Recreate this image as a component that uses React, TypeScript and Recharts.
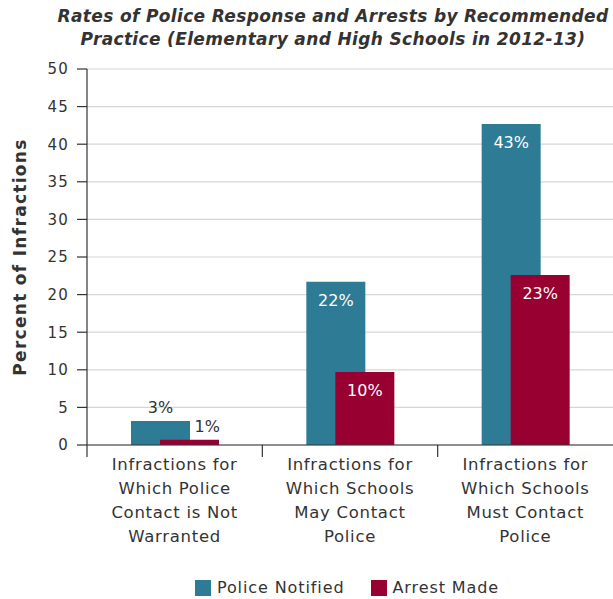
import { BarChart, Bar, XAxis, YAxis, CartesianGrid, LabelList } from "recharts";

const categories = [
  "Infractions for|Which Police|Contact is Not|Warranted",
  "Infractions for|Which Schools|May Contact|Police",
  "Infractions for|Which Schools|Must Contact|Police",
];
const policeNotified = [3.2, 21.7, 42.7];
const arrestMade = [0.7, 9.7, 22.6];
const yTicks = [0, 5, 10, 15, 20, 25, 30, 35, 40, 45, 50];

const TEAL = "#2e7b96";
const CRIMSON = "#990032";
const TEXT = "#333333";
const FONT = "'DejaVu Sans', sans-serif";

const W = 613;
const H = 599;
const X_AXIS_H = 30;
const M = { top: 69, right: 0, bottom: 154 - X_AXIS_H, left: 0 };
const Y_AXIS_W = 87;

const data = categories.map((c, i) => ({
  category: c,
  police: policeNotified[i],
  arrest: arrestMade[i],
}));

const bandWidth = (W - M.left - M.right - Y_AXIS_W) / categories.length;

// category labels wrap on "|"; the tick mark sits on the left edge of each band
function CategoryTick(props: any) {
  const { x, y, payload } = props;
  const lines: string[] = String(payload.value).split("|");
  const left = x - bandWidth / 2;
  return (
    <g>
      <line x1={left} y1={y - 8} x2={left} y2={y + 4} stroke={TEXT} strokeWidth={1.2} />
      <text
        x={x}
        y={y + 17}
        textAnchor="middle"
        fill={TEXT}
        fontSize={16.5}
        letterSpacing={0.7}
        fontFamily={FONT}
      >
        {lines.map((l, i) => (
          <tspan key={i} x={x} dy={i === 0 ? 0 : 24}>
            {l}
          </tspan>
        ))}
      </text>
    </g>
  );
}

function makeValueLabel(shiftAbove: number) {
  return (props: any) => {
    const { x, y, width, height, value } = props;
    const text = `${Math.round(value)}%`;
    if (height < 26) {
      return (
        <text
          x={x + width * shiftAbove}
          y={y - 8}
          textAnchor="middle"
          fill={TEXT}
          fontSize={16}
          fontFamily={FONT}
        >
          {text}
        </text>
      );
    }
    return (
      <text x={x + width / 2} y={y + 24} textAnchor="middle" fill="#ffffff" fontSize={16} fontFamily={FONT}>
        {text}
      </text>
    );
  };
}

function YLabel(props: any) {
  const { viewBox } = props;
  const cy = viewBox.y + viewBox.height / 2;
  return (
    <text
      x={20}
      y={cy}
      transform={`rotate(-90, 20, ${cy})`}
      textAnchor="middle"
      dominantBaseline="central"
      fill={TEXT}
      fontSize={17}
      fontWeight={700}
      letterSpacing={1.3}
      fontFamily={FONT}
    >
      Percent of Infractions
    </text>
  );
}

export default function App() {
  return (
    <div style={{ position: "absolute", left: 0, top: 0, width: W, height: H, background: "#fff", fontFamily: FONT }}>
      <div
        style={{
          position: "absolute",
          left: 40,
          width: 586,
          top: 5,
          textAlign: "center",
          fontSize: 17,
          letterSpacing: 0.35,
          lineHeight: "23px",
          fontWeight: 700,
          fontStyle: "italic",
          color: TEXT,
          whiteSpace: "nowrap",
        }}
      >
        Rates of Police Response and Arrests by Recommended
        <br />
        Practice (Elementary and High Schools in 2012-13)
      </div>
      <BarChart width={W} height={H} data={data} margin={M} barSize={59} barGap={-30}>
        <CartesianGrid vertical={false} stroke="#d6d6d6" strokeWidth={1.2} />
        <XAxis
          dataKey="category"
          height={X_AXIS_H}
          interval={0}
          tick={<CategoryTick />}
          tickLine={false}
          axisLine={{ stroke: TEXT, strokeWidth: 1.2 }}
        />
        <YAxis
          width={Y_AXIS_W}
          domain={[0, 50]}
          ticks={yTicks}
          interval={0}
          tickSize={10}
          tickMargin={8}
          tick={{ fill: TEXT, fontSize: 15, fontFamily: FONT, letterSpacing: 1.2 }}
          tickLine={{ stroke: TEXT, strokeWidth: 1.2 }}
          axisLine={{ stroke: TEXT, strokeWidth: 1.2 }}
          label={<YLabel />}
        />
        <Bar dataKey="police" fill={TEAL} isAnimationActive={false}>
          <LabelList dataKey="police" content={makeValueLabel(0.5)} />
        </Bar>
        <Bar dataKey="arrest" fill={CRIMSON} isAnimationActive={false}>
          <LabelList dataKey="arrest" content={makeValueLabel(0.8)} />
        </Bar>
      </BarChart>
      <div
        style={{
          position: "absolute",
          top: 579,
          left: 0,
          width: W - 81,
          paddingLeft: 81,
          display: "flex",
          justifyContent: "center",
          gap: 26,
          fontSize: 16,
          letterSpacing: 0.9,
          lineHeight: "18px",
          color: TEXT,
        }}
      >
        <div style={{ display: "flex", alignItems: "center", gap: 6 }}>
          <div style={{ width: 16, height: 16, background: TEAL }} />
          <span>Police Notified</span>
        </div>
        <div style={{ display: "flex", alignItems: "center", gap: 6 }}>
          <div style={{ width: 16, height: 16, background: CRIMSON }} />
          <span>Arrest Made</span>
        </div>
      </div>
    </div>
  );
}
